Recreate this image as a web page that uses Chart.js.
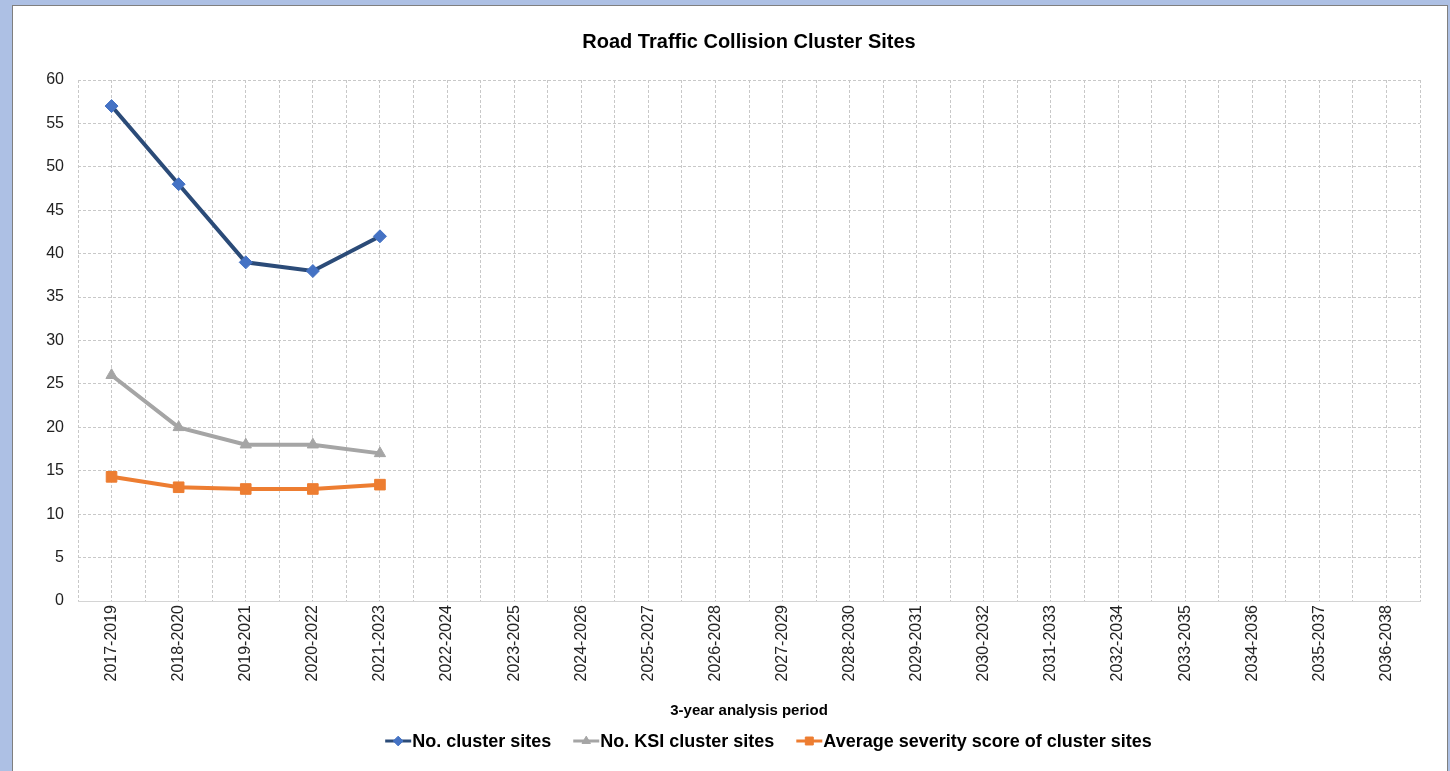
<!DOCTYPE html>
<html><head><meta charset="utf-8">
<script src="https://cdn.jsdelivr.net/npm/chart.js@4.4.1/dist/chart.umd.min.js"></script>
<style>
html,body{margin:0;padding:0;background:#adc0e4;width:1450px;height:771px;overflow:hidden;}
#frame{position:absolute;left:12px;top:5px;width:1434px;height:770px;border:1px solid #7f7f7f;background:#fff;}
#c{display:block;width:1434px;height:766px;}
</style></head><body>
<div id="frame"><canvas id="c" width="1434" height="766"></canvas></div>
<script>
const categories = ['2017-2019','2018-2020','2019-2021','2020-2022','2021-2023','2022-2024','2023-2025','2024-2026','2025-2027','2026-2028','2027-2029','2028-2030','2029-2031','2030-2032','2031-2033','2032-2034','2033-2035','2034-2036','2035-2037','2036-2038'];
const clusterSites = [57, 48, 39, 38, 42];
const ksiClusterSites = [26, 20, 18, 18, 17];
const avgSeverity = [14.3, 13.1, 12.9, 12.9, 13.4];
const seriesNames = ['No. cluster sites', 'No. KSI cluster sites', 'Average severity score of cluster sites'];
const chartTitle = 'Road Traffic Collision Cluster Sites';
const xTitle = '3-year analysis period';
const yMin = 0, yMax = 60, yStep = 5;

const FAM = '"Liberation Sans", Arial, Helvetica, sans-serif';
const GRID = '#c8c8c8';

const legendPlugin = {
  id: 'customLegend',
  afterDraw(chart) {
    const ctx = chart.ctx;
    ctx.save();
    ctx.font = 'bold 18px ' + FAM;
    const items = chart.data.datasets.map(ds => ({ds, w: ctx.measureText(ds.label).width}));
    const lineLen = 26, textGap = 1, itemGap = 22;
    const total = items.reduce((s, it) => s + lineLen + textGap + it.w, 0) + itemGap * (items.length - 1);
    let x = 755.5 - total / 2;
    const y = 735;
    items.forEach(it => {
      ctx.strokeStyle = it.ds.borderColor;
      ctx.lineWidth = 3;
      ctx.beginPath(); ctx.moveTo(x, y); ctx.lineTo(x + lineLen, y); ctx.stroke();
      ctx.fillStyle = it.ds.pointBackgroundColor;
      ctx.strokeStyle = it.ds.pointBorderColor;
      ctx.lineWidth = 1;
      Chart.helpers.drawPoint(ctx, {pointStyle: it.ds.pointStyle, radius: it.ds.pointRadius * 0.75, borderWidth: 1, rotation: 0}, x + lineLen / 2, y);
      ctx.font = 'bold 18px ' + FAM;
      ctx.fillStyle = '#000';
      ctx.textBaseline = 'middle';
      ctx.textAlign = 'left';
      ctx.fillText(it.ds.label, x + lineLen + textGap, y + 1);
      x += lineLen + textGap + it.w + itemGap;
    });
    ctx.restore();
  }
};

new Chart(document.getElementById('c'), {
  type: 'line',
  data: {
    labels: categories,
    datasets: [
      {label: seriesNames[0], data: clusterSites, borderColor: '#2b4b78', borderWidth: 4, pointStyle: 'rectRot', pointRadius: 6.5, pointBackgroundColor: '#4472c4', pointBorderColor: '#4472c4', pointBorderWidth: 1, tension: 0},
      {label: seriesNames[1], data: ksiClusterSites, borderColor: '#a5a5a5', borderWidth: 4, pointStyle: 'triangle', pointRadius: 6.5, pointBackgroundColor: '#a5a5a5', pointBorderColor: '#a5a5a5', pointBorderWidth: 1, tension: 0},
      {label: seriesNames[2], data: avgSeverity, borderColor: '#ed7d31', borderWidth: 4, pointStyle: 'rect', pointRadius: 7.5, pointBackgroundColor: '#ed7d31', pointBorderColor: '#ed7d31', pointBorderWidth: 1, tension: 0}
    ]
  },
  options: {
    responsive: false,
    animation: false,
    devicePixelRatio: 1,
    layout: {padding: {left: 0, right: 27, top: 0, bottom: 46}},
    plugins: {
      legend: {display: false},
      tooltip: {enabled: false},
      title: {display: true, text: chartTitle, fullSize: false, color: '#000', font: {family: FAM, size: 20, weight: 'bold'}, padding: {top: 24, bottom: 26}}
    },
    scales: {
      x: {
        type: 'category', position: 'bottom', offset: true,
        grid: {offset: true, color: GRID, drawTicks: false, lineWidth: 1},
        border: {display: true, color: '#d4d4d4', width: 1, dash: [3, 2]},
        ticks: {autoSkip: false, maxRotation: 90, minRotation: 90, padding: 4, color: '#222', font: {family: FAM, size: 16}},
        title: {display: true, text: xTitle, color: '#000', font: {family: FAM, size: 15, weight: 'bold'}, padding: {top: 0, bottom: 6}},
        afterFit(s) { s.height = 125; }
      },
      x2: {
        type: 'category', labels: categories, position: 'bottom', offset: true,
        grid: {offset: false, color: GRID, drawTicks: false, lineWidth: 1},
        border: {display: false, dash: [3, 2]},
        ticks: {display: false},
        afterFit(s) { s.height = 0; }
      },
      y: {
        min: yMin, max: yMax,
        grid: {color: GRID, drawTicks: false, lineWidth: 1},
        border: {display: false, dash: [3, 2]},
        ticks: {stepSize: yStep, padding: 14, color: '#222', font: {family: FAM, size: 16}},
        afterFit(s) { s.width = 65; }
      }
    }
  },
  plugins: [legendPlugin]
});
</script>
</body></html>
